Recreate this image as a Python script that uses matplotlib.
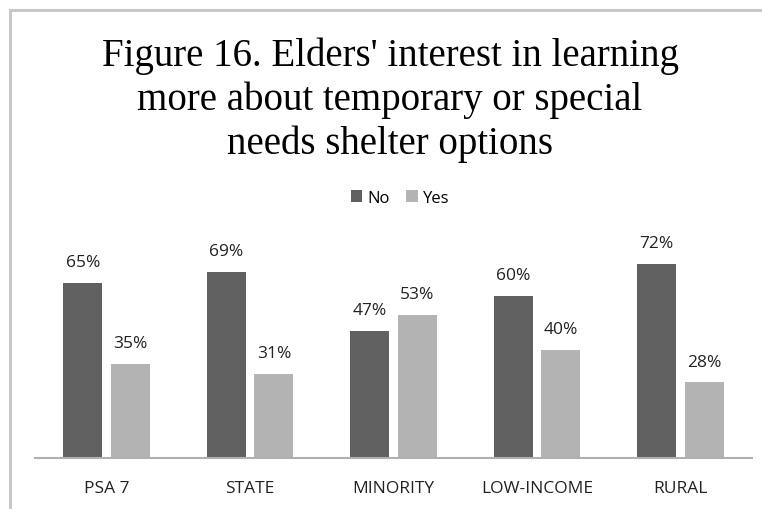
import matplotlib
matplotlib.use('Agg')
import matplotlib.pyplot as plt
from matplotlib.patches import Rectangle, Patch
import numpy as np

categories = ['PSA 7', 'STATE', 'MINORITY', 'LOW-INCOME', 'RURAL']
no_vals = [65, 69, 47, 60, 72]
yes_vals = [35, 31, 53, 40, 28]

DARK = '#606060'
LIGHT = '#b3b3b3'
SANS = ['Open Sans', 'DejaVu Sans']

fig = plt.figure(figsize=(7.62, 5.1), dpi=100)
fig.patch.set_facecolor('white')

# outer chart border (right and bottom edges fall outside the crop)
fig.patches.append(Rectangle((9.5 / 762, -0.05), 1.2, 1 - 10.5 / 510 + 0.05,
                             transform=fig.transFigure, fill=False,
                             edgecolor='#c8c8c8', linewidth=2.2))

ax = fig.add_axes([35 / 762, 51 / 510, 717 / 762, 216 / 510])
x = np.arange(len(categories))
w = 0.272
off = 0.166
b1 = ax.bar(x - off, no_vals, w, color=DARK, label='No')
b2 = ax.bar(x + off, yes_vals, w, color=LIGHT, label='Yes')

for bars, vals in ((b1, no_vals), (b2, yes_vals)):
    for rect, v in zip(bars, vals):
        ax.annotate('%d%%' % v, (rect.get_x() + rect.get_width() / 2, v),
                    xytext=(0, 15), textcoords='offset points',
                    ha='center', va='center', fontsize=12.5,
                    color='#222222', family=SANS)

ax.set_xlim(-0.5, len(categories) - 0.5)
ax.set_ylim(0, 80)
ax.set_yticks([])
ax.set_xticks(x)
ax.set_xticklabels(categories, fontsize=12.5, color='#222222', family=SANS)
ax.tick_params(axis='x', length=0, pad=16)
for s in ('top', 'right', 'left'):
    ax.spines[s].set_visible(False)
ax.spines['bottom'].set_color('#b0b0b0')
ax.spines['bottom'].set_linewidth(1.5)

fig.text(390 / 762, 1 - 100 / 510,
         "Figure 16. Elders' interest in learning\n"
         "more about temporary or special\n"
         "needs shelter options",
         ha='center', va='center', fontsize=28, family='Liberation Serif',
         linespacing=1.22, color='black')

handles = [Patch(facecolor=DARK, label='No'), Patch(facecolor=LIGHT, label='Yes')]
fig.legend(handles=handles, loc='center', bbox_to_anchor=(400 / 762, 1 - 199 / 510),
           ncol=2, frameon=False, handlelength=0.7, handleheight=0.7,
           handletextpad=0.3, columnspacing=1.0, prop={'family': SANS, 'size': 12})

fig.savefig('out.png', dpi=100, facecolor='white')
